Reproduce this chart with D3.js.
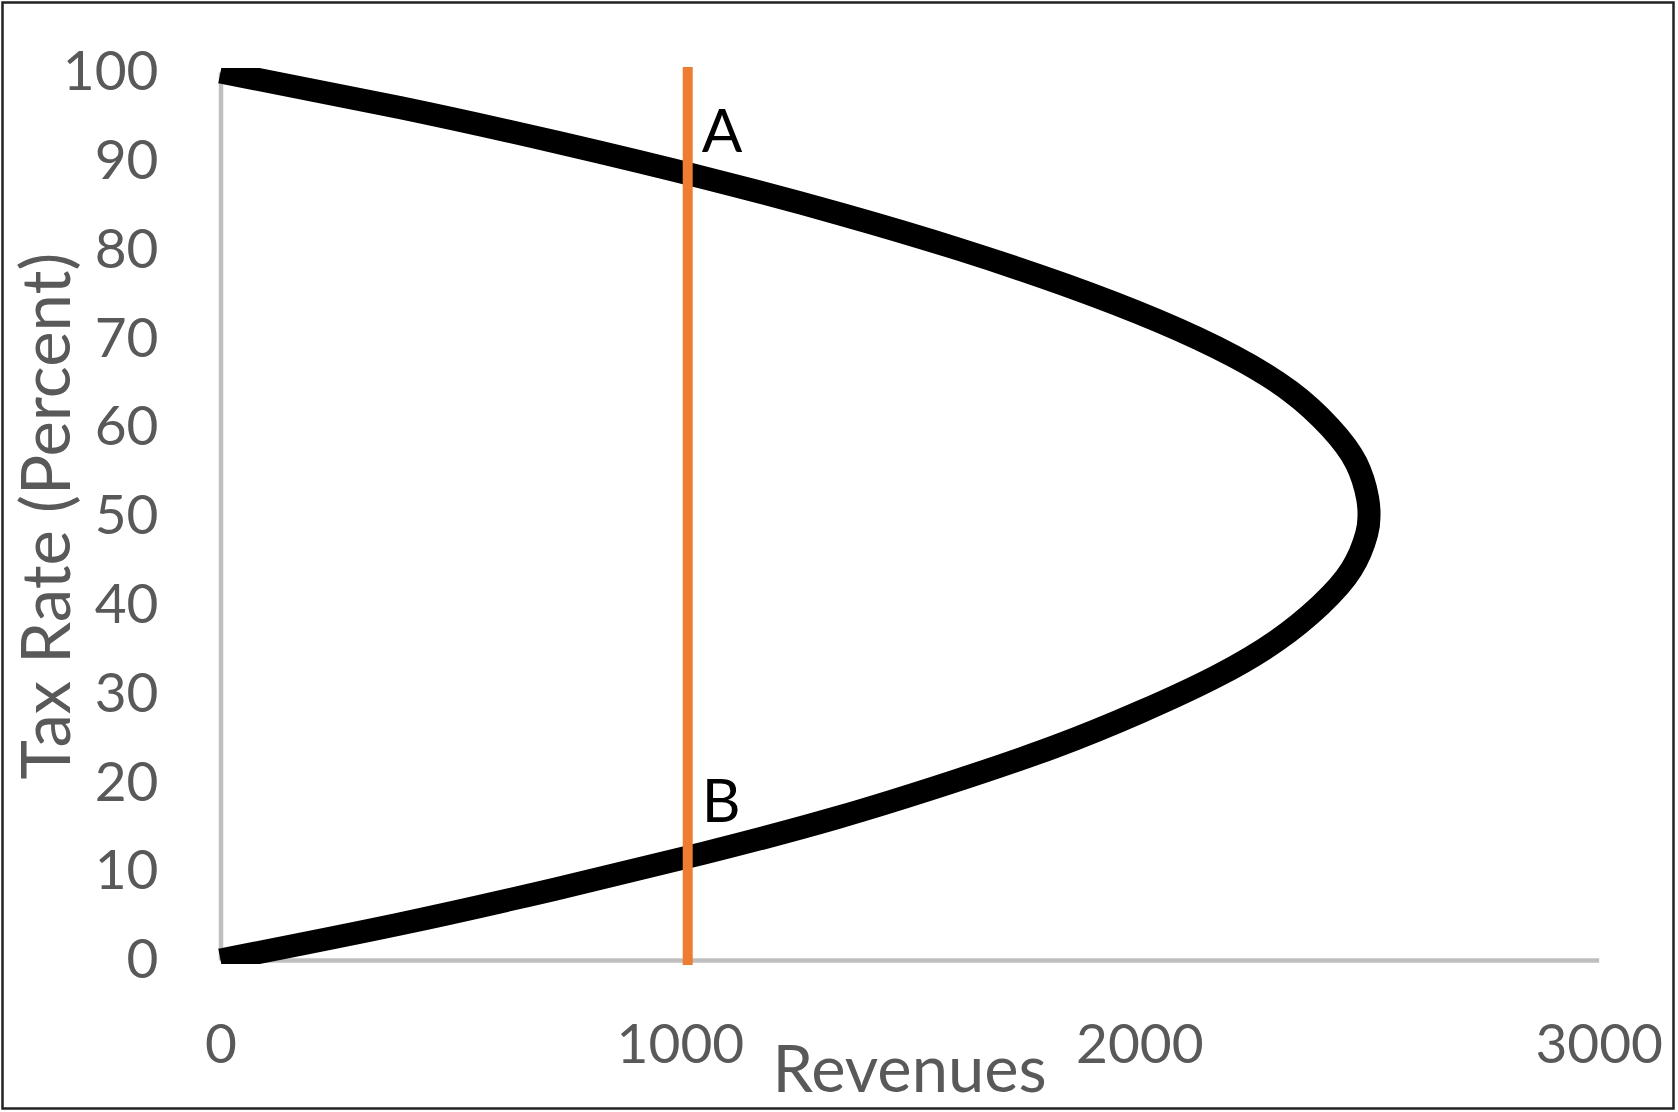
<!DOCTYPE html>
<html>
<head>
<meta charset="utf-8">
<script src="https://cdn.jsdelivr.net/npm/d3@7"></script>
<style>
  html, body { margin: 0; padding: 0; background: #fff; }
  svg { display: block; }
</style>
</head>
<body>
<script>
// ---- data ----
const taxRate = [0, 4, 8, 12, 16, 20, 24, 28, 32, 36, 40, 44, 48, 50, 52, 56, 60, 64, 68, 72, 76, 80, 84, 88, 92, 96, 100];
const revenue = [0, 385, 730, 1050, 1340, 1590, 1815, 2005, 2170, 2300, 2395, 2462, 2495, 2500, 2497, 2472, 2415, 2330, 2205, 2040, 1840, 1610, 1350, 1060, 740, 390, 0];
const xTickValues = [0, 1000, 2000, 3000];
const yTickValues = [0, 10, 20, 30, 40, 50, 60, 70, 80, 90, 100];
const markerRevenue = 1017;
const pointLabels = ["A", "B"];
const pointLabelRates = [91, 15.5];
const xTitle = "Revenues";
const yTitle = "Tax Rate (Percent)";

// ---- layout ----
const W = 1678, H = 1112;
const plot = { left: 220.5, right: 1598.7, top: 72, bottom: 960 };
const FONT = "Lato, 'Open Sans', sans-serif";

const svg = d3.select("body").append("svg")
  .attr("width", W).attr("height", H);

svg.append("rect").attr("x", 0).attr("y", 0).attr("width", W).attr("height", H).attr("fill", "#fff");
svg.append("rect").attr("x", 2.5).attr("y", 2.5).attr("width", 1671).attr("height", 1106)
  .attr("fill", "none").attr("stroke", "#222").attr("stroke-width", 2.5);

const x = d3.scaleLinear().domain([0, 3000]).range([plot.left, plot.right]);
const y = d3.scaleLinear().domain([0, 100]).range([plot.bottom, plot.top]);

// axes
const yAxis = d3.axisLeft(y).tickValues(yTickValues).tickFormat(d3.format("d"))
  .tickSize(0).tickSizeOuter(0).tickPadding(62);
const gy = svg.append("g").attr("transform", `translate(${plot.left},0)`).call(yAxis);
gy.select(".domain").attr("stroke", "#bfbfbf").attr("stroke-width", 4.5);
gy.selectAll("text").attr("font-family", FONT).attr("font-size", 55).attr("fill", "#595959");

const xAxis = d3.axisBottom(x).tickValues(xTickValues).tickFormat(d3.format("d"))
  .tickSize(0).tickSizeOuter(0).tickPadding(64);
const gx = svg.append("g").attr("transform", `translate(0,${plot.bottom})`).call(xAxis);
gx.select(".domain").attr("stroke", "#bfbfbf").attr("stroke-width", 4.5);
gx.selectAll("text").attr("font-family", FONT).attr("font-size", 55).attr("fill", "#595959");

// clip for the curve
svg.append("clipPath").attr("id", "plotclip").append("rect")
  .attr("x", plot.left - 2.5).attr("y", plot.top - 4)
  .attr("width", plot.right - plot.left + 5).attr("height", plot.bottom - plot.top + 8);

const pts = taxRate.map((t, i) => ({ t, r: revenue[i] }));
const line = d3.line().x(d => x(d.r)).y(d => y(d.t)).curve(d3.curveNatural);
svg.append("path").attr("clip-path", "url(#plotclip)")
  .attr("d", line(pts)).attr("fill", "none").attr("stroke", "#000")
  .attr("stroke-width", 23).attr("stroke-linejoin", "round");

// vertical marker
svg.append("line")
  .attr("x1", x(markerRevenue)).attr("x2", x(markerRevenue))
  .attr("y1", y(0)).attr("y2", y(100))
  .attr("stroke", "#ED7D31").attr("stroke-width", 10).attr("stroke-linecap", "square");

// point labels
svg.selectAll("text.pl").data(pointLabels).enter().append("text")
  .attr("class", "pl")
  .attr("x", x(markerRevenue) + 14)
  .attr("y", (d, i) => y(pointLabelRates[i]))
  .attr("font-family", FONT).attr("font-size", 60).attr("fill", "#000")
  .text(d => d);

// axis titles
svg.append("text").attr("x", (plot.left + plot.right) / 2).attr("y", 1092)
  .attr("text-anchor", "middle").attr("font-family", FONT).attr("font-size", 65)
  .attr("fill", "#595959").text(xTitle);

svg.append("text")
  .attr("transform", `translate(70,${(plot.top + plot.bottom) / 2}) rotate(-90)`)
  .attr("text-anchor", "middle").attr("font-family", FONT).attr("font-size", 67)
  .attr("fill", "#595959").text(yTitle);
</script>
</body>
</html>
